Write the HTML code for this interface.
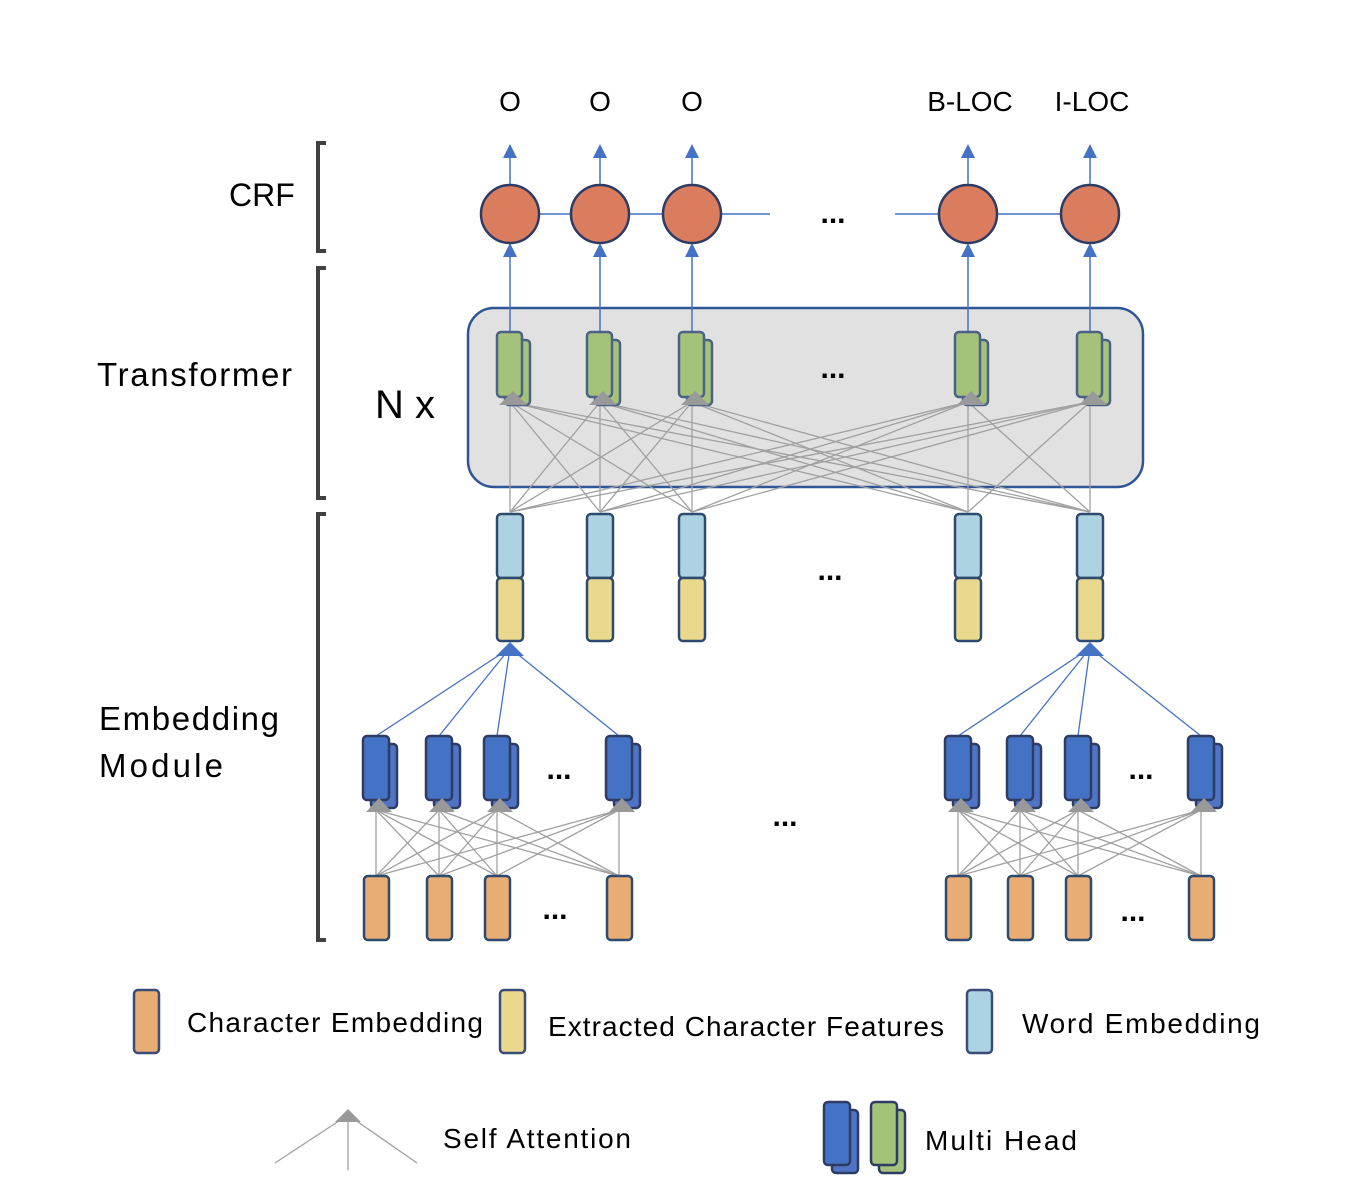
<!DOCTYPE html>
<html><head><meta charset="utf-8"><style>
html,body{margin:0;padding:0;background:#fff}
svg{display:block}
text{font-family:"Liberation Sans",sans-serif;fill:#000}
</style></head><body>
<svg id="d" width="1364" height="1202" viewBox="0 0 1364 1202">
<defs>
<marker id="ab" viewBox="0 0 10 10" refX="5" refY="9" markerWidth="4.5" markerHeight="4.5" orient="auto-start-reverse" markerUnits="userSpaceOnUse"><path d="M0,0 L5,0 L10,0 Z" fill="#4472C4"/></marker>
</defs>
<g id="brackets" stroke="#404040" stroke-width="4" fill="none">
<path d="M326,143 H318 V251 H326"/>
<path d="M326,268 H318 V498 H326"/>
<path d="M326,514 H318 V940 H326"/>
</g>
<text x="229" y="206" font-size="32">CRF</text>
<text x="97" y="386" font-size="33" textLength="195">Transformer</text>
<text x="99" y="730" font-size="33" textLength="180">Embedding</text>
<text x="99" y="777" font-size="33" textLength="124">Module</text>
<rect x="468" y="308" width="675" height="179" rx="26" fill="#E1E1E1" stroke="#2F5597" stroke-width="2.5"/>
<text x="375" y="418" font-size="40">N x</text>
<g id="g"></g>
<text x="1022" y="1033" font-size="28" textLength="238">Word Embedding</text>
<text x="187" y="1032" font-size="28" textLength="296">Character Embedding</text>
<text x="548" y="1036" font-size="28" textLength="396">Extracted Character Features</text>
<text x="443" y="1148" font-size="28" textLength="188">Self Attention</text>
<text x="925" y="1150" font-size="28" textLength="152">Multi Head</text>
</svg>
<script>
const wordCols=[510,600,692,968,1090];
const outLabels=["O","O","O","B-LOC","I-LOC"];
const charColsLeft=[376,439,497,619];
const charColsRight=[958,1020,1078,1201];
const NS="http://www.w3.org/2000/svg";
const G=document.getElementById('g');
function mk(tag,attrs,parent){const e=document.createElementNS(NS,tag);for(const k in attrs)e.setAttribute(k,attrs[k]);(parent||G).appendChild(e);return e;}
function arrowHead(x,y,color,w,h){return mk('path',{d:`M${x},${y} L${x-w/2},${y+h} L${x+w/2},${y+h} Z`,fill:color});}
// CRF chain line
let l=mk('line',{x1:510,y1:214,x2:770,y2:214,stroke:'#4472C4','stroke-width':1.5});


l=mk('line',{x1:895,y1:214,x2:1090,y2:214,stroke:'#4472C4','stroke-width':1.5});


// gray attention lines transformer
wordCols.forEach(src=>{wordCols.forEach(dst=>{
  const e=mk('line',{x1:src,y1:512,x2:dst,y2:402,stroke:'#A0A0A0','stroke-width':1.3});
  
  
});});
wordCols.forEach((x,i)=>{
  // output arrow
  let a=mk('line',{x1:x,y1:185,x2:x,y2:155,stroke:'#4472C4','stroke-width':1.5});
  
  
  arrowHead(x,144,'#4472C4',14,14);
  let t=mk('text',{x:x+(i>2?2:0),y:111,'font-size':28,'text-anchor':'middle'});t.textContent=outLabels[i];
  
  
  // arrow green -> circle
  a=mk('line',{x1:x,y1:332,x2:x,y2:256,stroke:'#4472C4','stroke-width':1.5});
  
  
  arrowHead(x,243,'#4472C4',14,14);
  const c=mk('circle',{cx:x,cy:214,r:29,fill:'#DA7D5E',stroke:'#2E3C63','stroke-width':2.5});
  
  
  // green multi-head
  let r=mk('rect',{x:x-5,y:340,width:25,height:65,rx:4,fill:'#A5C27A',stroke:'#4A6285','stroke-width':2.5});
  
  
  r=mk('rect',{x:x-13,y:332,width:25,height:65,rx:4,fill:'#A5C27A',stroke:'#4A6285','stroke-width':2.5});
  
  
  arrowHead(x+3,391,'#999',28,14);
  // word embedding + extracted features
  r=mk('rect',{x:x-13,y:514,width:26,height:64,rx:4,fill:'#ADD2E2',stroke:'#2E4A6F','stroke-width':2.5});
  
  
  r=mk('rect',{x:x-13,y:578,width:26,height:63,rx:4,fill:'#EAD98D',stroke:'#2E4A6F','stroke-width':2.5});
  
  
});
function charGroup(cols,target){
  cols.forEach(src=>{cols.forEach(dst=>{
    const e=mk('line',{x1:src,y1:876,x2:dst,y2:810,stroke:'#A0A0A0','stroke-width':1.3});
    
    
  });});
  cols.forEach(x=>{
    const e=mk('line',{x1:x,y1:736,x2:target,y2:648,stroke:'#4472C4','stroke-width':1.3});
    
    
    let r=mk('rect',{x:x-5,y:744,width:26,height:64,rx:4,fill:'#4F74C6',stroke:'#2E3C63','stroke-width':2.5});
    
    
    r=mk('rect',{x:x-13,y:736,width:26,height:64,rx:4,fill:'#4472C4',stroke:'#2E3C63','stroke-width':2.5});
    
    
    arrowHead(x+3,798,'#999',26,14);
    r=mk('rect',{x:x-12,y:876,width:25,height:64,rx:4,fill:'#E8AD72',stroke:'#2E4A6F','stroke-width':2.5});
    
    
  });
  arrowHead(target,642,'#4472C4',28,14);
}
charGroup(charColsLeft,510);
charGroup(charColsRight,1090);
const dots=[[833,215],[833,370],[830,572],[559,771],[785,818],[555,911],[1141,771],[1133,913]];
dots.forEach(p=>{const t=mk('text',{x:p[0],y:p[1]+8,'font-size':30,'font-weight':'bold','text-anchor':'middle'});t.textContent='...';
  
  });
// legend swatches
[[134,990,'#E8AD72','legend-character-swatch'],[500,990,'#EAD98D','legend-extracted-swatch'],[967,990,'#ADD2E2','legend-word-swatch']].forEach(s=>{
  const r=mk('rect',{x:s[0],y:s[1],width:25,height:63,rx:4,fill:s[2],stroke:'#3A4C7A','stroke-width':2.5});
  
  
});
[[275,1163],[348,1170],[417,1163]].forEach(p=>{
  const e=mk('line',{x1:p[0],y1:p[1],x2:348,y2:1115,stroke:'#A0A0A0','stroke-width':1.3});
  
  
});
arrowHead(348,1109,'#999',26,13);
[[824,'#4472C4','#4F74C6','legend-multi-head-blue'],[871,'#A5C27A','#A5C27A','legend-multi-head-green']].forEach(s=>{
  let r=mk('rect',{x:s[0]+8,y:1110,width:26,height:63,rx:4,fill:s[2],stroke:'#2E3C63','stroke-width':2.5});
  
  
  r=mk('rect',{x:s[0],y:1102,width:26,height:63,rx:4,fill:s[1],stroke:'#2E3C63','stroke-width':2.5});
  
  
});
</script>
</body></html>
